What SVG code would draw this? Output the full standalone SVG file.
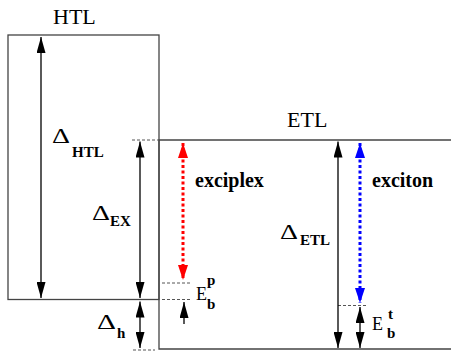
<svg xmlns="http://www.w3.org/2000/svg" width="451" height="352" viewBox="0 0 451 352">
<style>
.box{fill:none;stroke:#444;stroke-width:1.3}
.arr{stroke:#000;stroke-width:1.3;fill:none}
.guide{stroke:#555;stroke-width:1;stroke-dasharray:3 2;fill:none}
.dotr{stroke:#f00;stroke-width:3;stroke-dasharray:3 2.5;fill:none}
.dotb{stroke:#00f;stroke-width:3;stroke-dasharray:3 2.5;fill:none}
text{font-family:'Liberation Serif','DejaVu Serif',serif;fill:#000}
.big{font-size:22px}
.sub{font-size:15px;font-weight:bold}
.lab{font-size:20px;font-weight:bold}
.e{font-size:18px}
</style>
<defs>
<marker id="ak" viewBox="0 0 16 9" refX="16" refY="4.5" markerWidth="16" markerHeight="9" markerUnits="userSpaceOnUse" orient="auto-start-reverse"><path d="M0,0 L16,4.5 L0,9 Z" fill="#000"/></marker>
<marker id="ar" viewBox="0 0 15 10" refX="15" refY="5" markerWidth="15" markerHeight="10" markerUnits="userSpaceOnUse" orient="auto-start-reverse"><path d="M0,0 L15,5 L0,10 Z" fill="#f00"/></marker>
<marker id="ab" viewBox="0 0 15 10" refX="15" refY="5" markerWidth="15" markerHeight="10" markerUnits="userSpaceOnUse" orient="auto-start-reverse"><path d="M0,0 L15,5 L0,10 Z" fill="#00f"/></marker>
</defs>
<g id="HTL">
<rect class="box" x="8" y="35" width="151" height="264.5"/>
<text class="big" x="53" y="24" font-family="Liberation Serif, serif">HTL</text>
</g>
<g id="ETL">
<path class="box" d="M451,140 H159 V349 H451"/>
<text class="big" x="287" y="127" font-family="Liberation Serif, serif">ETL</text>
</g>
<g id="guides">
<line class="guide" x1="132" y1="140" x2="159" y2="140"/>
<line class="guide" x1="162" y1="283" x2="190" y2="283"/>
<line class="guide" x1="162" y1="299.5" x2="190" y2="299.5"/>
<line class="guide" x1="338" y1="305.5" x2="368" y2="305.5"/>
<line class="guide" x1="133" y1="350" x2="155" y2="350"/>
</g>
<g id="connectors">
<line class="arr" x1="41" y1="37" x2="41" y2="298" marker-start="url(#ak)" marker-end="url(#ak)"/>
<line class="arr" x1="140" y1="141.5" x2="140" y2="298" marker-start="url(#ak)" marker-end="url(#ak)"/>
<line class="arr" x1="140" y1="301.5" x2="140" y2="348" marker-start="url(#ak)" marker-end="url(#ak)"/>
<line class="dotr" x1="183" y1="143" x2="183" y2="280" marker-start="url(#ar)" marker-end="url(#ar)"/>
<line class="arr" x1="184" y1="324" x2="184" y2="302" marker-end="url(#ak)"/>
<line class="arr" x1="338" y1="141.5" x2="338" y2="348" marker-start="url(#ak)" marker-end="url(#ak)"/>
<line class="dotb" x1="360" y1="143" x2="360" y2="303" marker-start="url(#ab)" marker-end="url(#ab)"/>
<line class="arr" x1="360" y1="307" x2="360" y2="348" marker-start="url(#ak)" marker-end="url(#ak)"/>
</g>
<g id="labels">
<text class="big" x="52" y="143" textLength="18" lengthAdjust="spacingAndGlyphs">Δ</text>
<text class="sub" x="72" y="157">HTL</text>
<text class="big" x="92" y="220" textLength="18" lengthAdjust="spacingAndGlyphs">Δ</text>
<text class="sub" x="110" y="226">EX</text>
<text class="big" x="97" y="329" textLength="19" lengthAdjust="spacingAndGlyphs">Δ</text>
<text class="sub" x="117" y="338">h</text>
<text class="big" x="280" y="239" textLength="18" lengthAdjust="spacingAndGlyphs">Δ</text>
<text class="sub" x="300" y="245">ETL</text>
<text class="lab" x="195" y="187">exciplex</text>
<text class="lab" x="372" y="187">exciton</text>
<text class="e" x="196" y="299.5">E</text>
<text class="sub" x="207" y="285">p</text>
<text class="sub" x="207" y="309">b</text>
<text class="e" x="372" y="330">E</text>
<text class="sub" x="388" y="319">t</text>
<text class="sub" x="387" y="338">b</text>
</g>
</svg>
